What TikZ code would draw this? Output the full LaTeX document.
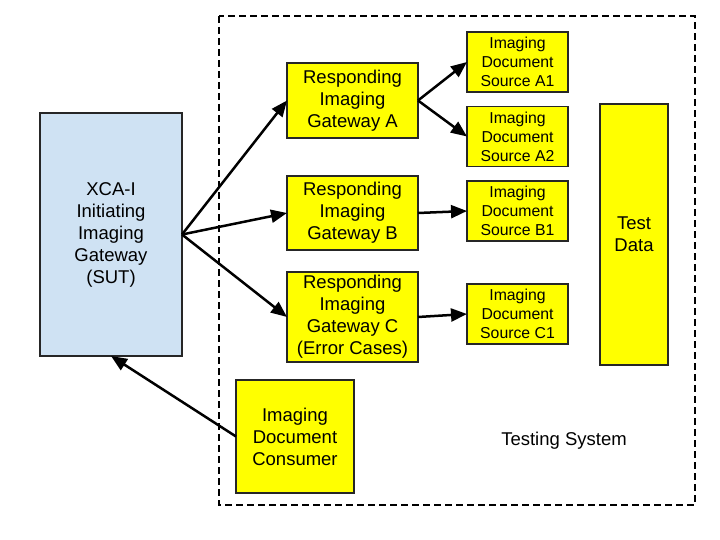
\documentclass[tikz,border=0pt]{standalone}
\usepackage{fontspec}
\setmainfont{Liberation Sans}
\usetikzlibrary{arrows.meta}
\definecolor{gwyellow}{HTML}{FFFF00}
\definecolor{sutblue}{HTML}{CFE2F3}
\definecolor{boxline}{HTML}{262626}
\begin{document}
\begin{tikzpicture}
		[x=1bp,y=-1bp,
		box/.style={
			rectangle,
			draw=boxline,
			line width=1.3bp,
			inner sep=0pt,
			outer sep=0pt,
			align=center,
			font=\fontsize{18.5bp}{22bp}\selectfont
		},
		gwnode/.style={box,fill=gwyellow,minimum width=131bp},
		srcnode/.style={box,fill=gwyellow,minimum width=101bp,minimum height=60bp,font=\fontsize{15.8bp}{19bp}\selectfont},
		flow/.style={line width=2.5bp,-{Triangle[length=16bp,width=13bp]}}]
		\useasboundingbox (0,0) rectangle (720,540);
		\draw[line width=1.3bp,dash pattern=on 7bp off 4bp] (219,16) rectangle (695,505);
		\node[box,fill=sutblue,minimum width=142bp,minimum height=243bp] (xca) at (111,234.5)
			{XCA-I\\Initiating\\Imaging\\Gateway\\(SUT)};
		\node[gwnode,minimum height=75bp] (gwA) at (352.5,100.5) {Responding\\Imaging\\Gateway A};
		\node[gwnode,minimum height=74bp] (gwB) at (352.5,213) {Responding\\Imaging\\Gateway B};
		\node[gwnode,minimum height=90bp] (gwC) at (352.5,317) {Responding\\Imaging\\Gateway C\\(Error Cases)};
		\node[srcnode] (srcA1) at (517.5,62) {Imaging\\Document\\Source A1};
		\node[srcnode] (srcA2) at (517.5,136.5) {Imaging\\Document\\Source A2};
		\node[srcnode] (srcB1) at (517.5,211) {Imaging\\Document\\Source B1};
		\node[srcnode] (srcC1) at (517.5,314) {Imaging\\Document\\Source C1};
		\node[box,fill=gwyellow,minimum width=68bp,minimum height=261bp] (data) at (634,234.5) {Test\\Data};
		\node[box,fill=gwyellow,minimum width=118bp,minimum height=113bp] (consumer) at (295,436.5)
			{Imaging\\Document\\Consumer};
		\node[font=\fontsize{18.5bp}{22bp}\selectfont] (tsys) at (564,441) {Testing System};
		% connectors
		\draw[flow] (xca.east) -- (gwA.west);
		\draw[flow] (xca.east) -- (gwB.west);
		\draw[flow] (xca.east) -- (gwC.west);
		\draw[flow] (gwA.east) -- (srcA1.west);
		\draw[flow] (gwA.east) -- (srcA2.west);
		\draw[flow] (gwB.east) -- (srcB1.west);
		\draw[flow] (gwC.east) -- (srcC1.west);
		\draw[flow] (consumer.west) -- (xca.south);
\end{tikzpicture}
\end{document}
